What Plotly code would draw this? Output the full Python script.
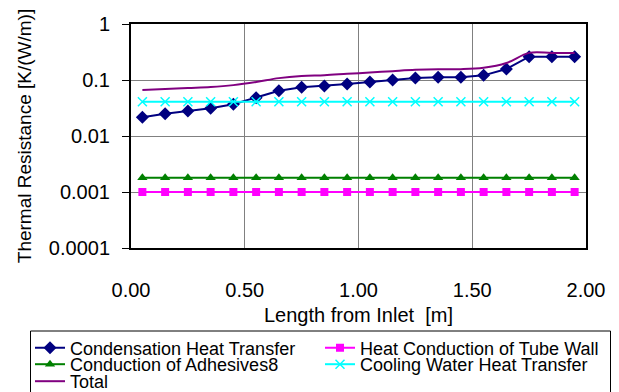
import plotly.graph_objects as go

length_m = [0.05, 0.15, 0.25, 0.35, 0.45, 0.55, 0.65, 0.75, 0.85, 0.95,
            1.05, 1.15, 1.25, 1.35, 1.45, 1.55, 1.65, 1.75, 1.85, 1.95]
condensation = [0.0216, 0.0250, 0.0279, 0.0312, 0.0368, 0.0483, 0.0644, 0.0741, 0.0781, 0.0848,
                0.0921, 0.100, 0.1086, 0.1117, 0.1117, 0.121, 0.157, 0.261, 0.261, 0.261]
tube_wall = [0.001] * 20
adhesives = [0.0018] * 20
cooling_water = [0.041] * 20
total = [0.066, 0.069, 0.072, 0.075, 0.081, 0.092, 0.108, 0.118, 0.122, 0.129,
         0.136, 0.144, 0.152, 0.156, 0.156, 0.165, 0.201, 0.305, 0.305, 0.305]

y_tickvals = [0.0001, 0.001, 0.01, 0.1, 1]
y_ticktext = ["0.0001", "0.001", "0.01", "0.1", "1"]
x_tickvals = [0, 0.5, 1.0, 1.5, 2.0]
x_ticktext = ["0.00", "0.50", "1.00", "1.50", "2.00"]

fig = go.Figure()
fig.add_trace(go.Scatter(x=length_m, y=condensation, name="Condensation Heat Transfer",
                         mode="lines+markers", line=dict(color="#000080", width=2),
                         marker=dict(symbol="diamond", size=10, color="#000080"),
                         legend="legend"))
fig.add_trace(go.Scatter(x=length_m, y=tube_wall, name="Heat Conduction of Tube Wall",
                         mode="lines+markers", line=dict(color="#FF00FF", width=2),
                         marker=dict(symbol="square", size=8, color="#FF00FF"),
                         legend="legend"))
fig.add_trace(go.Scatter(x=length_m, y=adhesives, name="Conduction of Adhesives8",
                         mode="lines+markers", line=dict(color="#008000", width=2),
                         marker=dict(symbol="triangle-up", size=9, color="#008000"),
                         legend="legend2"))
fig.add_trace(go.Scatter(x=length_m, y=cooling_water, name="Cooling Water Heat Transfer",
                         mode="lines+markers", line=dict(color="#00FFFF", width=2),
                         marker=dict(symbol="x-thin", size=9, color="#00FFFF",
                                     line=dict(color="#00FFFF", width=1.5)),
                         legend="legend2"))
fig.add_trace(go.Scatter(x=length_m, y=total, name="Total",
                         mode="lines", line=dict(color="#800080", width=2, shape="spline"),
                         legend="legend3"))

font_family = "Liberation Sans, Arial, sans-serif"

# plot area in pixels: left 131, right 586, top 24, bottom 248
def px_x(p):
    return (p - 131) / 455

def px_y(p):
    return (248 - p) / 224

legend_common = dict(orientation="h", x=px_x(30), xanchor="left", yanchor="top",
                     borderwidth=0, bgcolor="rgba(0,0,0,0)",
                     font=dict(size=18), itemwidth=30, tracegroupgap=0,
                     entrywidth=245, entrywidthmode="pixels")

fig.update_layout(
    width=619, height=392,
    margin=dict(l=131, r=33, t=24, b=144, autoexpand=False),
    paper_bgcolor="white", plot_bgcolor="white",
    font=dict(family=font_family, color="black", size=20),
    xaxis=dict(range=[0, 2], tickvals=x_tickvals, ticktext=x_ticktext,
               showgrid=True, gridcolor="#808080", gridwidth=1,
               showline=True, linecolor="black", linewidth=2, mirror=True,
               ticks="", ticklabelstandoff=23, zeroline=False, automargin=False,
               tickfont=dict(size=20),
               title=dict(text="Length from Inlet\u00a0 [m]", standoff=8, font=dict(size=20))),
    yaxis=dict(type="log", range=[-4, 0], tickvals=y_tickvals, ticktext=y_ticktext,
               showgrid=True, gridcolor="#808080", gridwidth=1,
               showline=True, linecolor="black", linewidth=2, mirror=True,
               ticks="outside", ticklen=7, tickcolor="black", ticklabelstandoff=8,
               zeroline=False, automargin=False, tickfont=dict(size=20),
               title=dict(text="Thermal Resistance [K/(W/m)]", standoff=12, font=dict(size=19))),
    legend=dict(legend_common, y=px_y(329.5)),
    legend2=dict(legend_common, y=px_y(346)),
    legend3=dict(legend_common, y=px_y(363)),
    shapes=[dict(type="rect", xref="paper", yref="paper",
                 x0=px_x(30.5), x1=px_x(610.5), y0=px_y(331), y1=px_y(420),
                 line=dict(color="black", width=1), fillcolor="rgba(0,0,0,0)",
                 layer="above")],
    showlegend=True,
)

fig.write_html("out.html", config={"displayModeBar": False},
               post_script="document.body.style.margin='0';")
